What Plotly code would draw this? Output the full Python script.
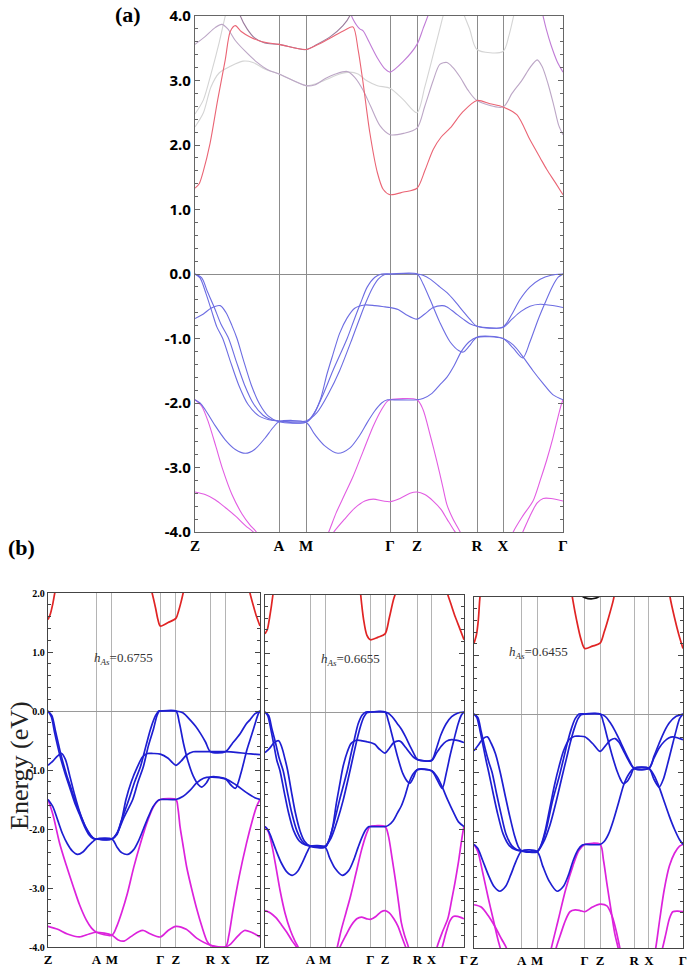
import numpy as np
import plotly.graph_objects as go

# ---------------- k-path ----------------
K_NODES = [0, 84, 111, 195, 222, 282, 308, 368]
K_LABELS = ["Z", "A", "M", "Γ", "Z", "R", "X", "Γ"]

# Each band: 7 path segments (Z-A, A-M, M-Γ, Γ-Z, Z-R, R-X, X-Γ),
# each a list of (fraction along segment, energy eV) or None.

# ---------- panel (a) valence ----------
A_T1 = [
    [(0, 0), (.06, -.06), (.13, -.3), (.2, -.58), (.26, -.82), (.33, -1.0), (.42, -1.35), (.52, -1.72), (.63, -2.02), (.76, -2.2), (.88, -2.26), (1, -2.28)],
    [(0, -2.28), (1, -2.28)],
    [(0, -2.28), (.13, -2.15), (.27, -1.85), (.4, -1.5), (.55, -1.0), (.63, -.72), (.71, -.45), (.79, -.22), (.86, -.08), (.93, -.01), (1, 0)],
    [(0, 0), (1, 0)],
    [(0, 0), (.1, -.02), (.22, -.08), (.38, -.2), (.5, -.29), (.63, -.42), (.77, -.58), (.88, -.7), (1, -.81)],
    [(0, -.81), (1, -.82)],
    [(0, -.82), (.15, -.62), (.28, -.4), (.45, -.2), (.62, -.08), (.8, -.02), (1, 0)],
]
A_T2 = [
    [(0, 0), (.08, -.06), (.15, -.28), (.23, -.52), (.31, -.78), (.4, -1.0), (.49, -1.35), (.59, -1.72), (.7, -2.02), (.81, -2.19), (.91, -2.26), (1, -2.28)],
    [(0, -2.28), (1, -2.3)],
    [(0, -2.3), (.1, -2.15), (.2, -1.88), (.32, -1.5), (.49, -1.0), (.57, -.72), (.65, -.45), (.73, -.2), (.82, -.05), (.9, 0), (1, 0)],
    [(0, 0), (1, 0)],
    [(0, 0), (.1, -.15), (.22, -.4), (.38, -.75), (.55, -1.05), (.7, -1.19), (.77, -1.21), (.87, -1.12), (1, -.98)],
    [(0, -.98), (1, -1.0)],
    [(0, -1.0), (.17, -1.15), (.33, -1.3), (.45, -1.05), (.58, -.72), (.7, -.45), (.82, -.2), (.92, -.05), (1, 0)],
]
A_H = [
    [(0, -.69), (.1, -.62), (.19, -.53), (.3, -.49), (.37, -.6), (.44, -.8), (.5, -1.0), (.58, -1.35), (.67, -1.72), (.77, -2.02), (.87, -2.2), (1, -2.29)],
    [(0, -2.29), (1, -2.3)],
    [(0, -2.3), (.08, -2.2), (.17, -1.95), (.25, -1.55), (.32, -1.25), (.4, -.92), (.49, -.68), (.58, -.53), (.7, -.48), (.82, -.49), (.94, -.51), (1, -.52)],
    [(0, -.52), (.3, -.55), (.6, -.63), (1, -.7)],
    [(0, -.7), (.13, -.62), (.27, -.52), (.42, -.49), (.5, -.51), (.63, -.6), (.77, -.7), (.88, -.77), (1, -.81)],
    [(0, -.81), (1, -.83)],
    [(0, -.83), (.15, -.7), (.3, -.58), (.45, -.5), (.62, -.47), (.75, -.48), (.9, -.5), (1, -.52)],
]
A_V4 = [
    [(0, -1.95), (.06, -2.0), (.12, -2.1), (.24, -2.35), (.36, -2.57), (.48, -2.72), (.6, -2.78), (.71, -2.72), (.83, -2.55), (.93, -2.38), (1, -2.29)],
    [(0, -2.29), (1, -2.3)],
    [(0, -2.3), (.1, -2.48), (.22, -2.66), (.38, -2.78), (.52, -2.7), (.64, -2.5), (.73, -2.3), (.82, -2.12), (.9, -2.0), (.97, -1.95), (1, -1.95)],
    [(0, -1.95), (1, -1.95)],
    [(0, -1.95), (.1, -1.93), (.25, -1.85), (.38, -1.72), (.5, -1.6), (.62, -1.42), (.74, -1.2), (.87, -1.05), (1, -.98)],
    [(0, -.98), (1, -1.0)],
    [(0, -1.0), (.17, -1.1), (.33, -1.28), (.5, -1.5), (.67, -1.7), (.83, -1.87), (1, -1.95)],
]
A_M1 = [
    [(0, -1.95), (.08, -2.05), (.16, -2.3), (.25, -2.68), (.33, -3.03), (.44, -3.42), (.56, -3.72), (.66, -3.9), (.73, -4.0), (.8, -4.2)],
    None,
    [(.2, -4.2), (.27, -4.0), (.36, -3.7), (.46, -3.42), (.56, -3.14), (.68, -2.75), (.8, -2.36), (.9, -2.1), (.97, -1.97), (1, -1.95)],
    [(0, -1.95), (1, -1.95)],
    [(0, -1.95), (.1, -2.1), (.22, -2.5), (.33, -2.9), (.43, -3.3), (.5, -3.58), (.6, -3.8), (.72, -4.0), (.8, -4.2)],
    None,
    [(.05, -4.3), (.17, -4.0), (.33, -3.75), (.5, -3.52), (.62, -3.2), (.73, -2.88), (.83, -2.55), (.9, -2.28), (.97, -2.03), (1, -1.95)],
]
A_M2 = [
    [(0, -3.38), (.12, -3.42), (.24, -3.5), (.36, -3.62), (.48, -3.75), (.6, -3.9), (.71, -4.02), (.8, -4.2)],
    None,
    [(.25, -4.2), (.32, -4.02), (.46, -3.8), (.58, -3.63), (.7, -3.52), (.8, -3.49), (.92, -3.52), (1, -3.53)],
    [(0, -3.53), (.37, -3.48), (.74, -3.4), (1, -3.38)],
    [(0, -3.38), (.13, -3.42), (.27, -3.52), (.4, -3.65), (.5, -3.8), (.6, -3.95), (.67, -4.05), (.75, -4.2)],
    None,
    [(.22, -4.2), (.33, -4.0), (.45, -3.75), (.57, -3.55), (.67, -3.48), (.8, -3.48), (1, -3.52)],
]

# ---------- panel (a) conduction ----------
A_C1 = [
    [(0, 1.33), (.05, 1.4), (.1, 1.6), (.18, 2.03), (.27, 2.7), (.36, 3.32), (.42, 3.76), (.48, 3.85), (.55, 3.76), (.65, 3.68), (.8, 3.6), (1, 3.56)],
    [(0, 3.56), (1, 3.48)],
    [(0, 3.48), (.13, 3.55), (.29, 3.66), (.46, 3.78), (.56, 3.83), (.62, 3.48), (.68, 2.96), (.76, 2.19), (.85, 1.57), (.92, 1.31), (1, 1.23)],
    [(0, 1.23), (.5, 1.27), (1, 1.33)],
    [(0, 1.33), (.13, 1.6), (.27, 1.93), (.4, 2.12), (.55, 2.26), (.77, 2.52), (1, 2.69)],
    [(0, 2.69), (.5, 2.64), (1, 2.59)],
    [(0, 2.59), (.23, 2.47), (.45, 2.08), (.62, 1.8), (.73, 1.62), (.87, 1.42), (1, 1.23)],
]
A_P = [
    [(0, 3.56), (.12, 3.68), (.24, 3.82), (.32, 3.87), (.39, 3.8), (.48, 3.62), (.6, 3.45), (.74, 3.28), (.86, 3.17), (1, 3.1)],
    [(0, 3.1), (1, 2.92)],
    [(0, 2.92), (.1, 2.93), (.23, 3.03), (.35, 3.1), (.49, 3.14), (.58, 3.05), (.68, 2.85), (.77, 2.6), (.88, 2.3), (1, 2.16)],
    [(0, 2.16), (.5, 2.18), (1, 2.26)],
    [(0, 2.26), (.13, 2.6), (.27, 3.0), (.38, 3.25), (.5, 3.28), (.6, 3.2), (.72, 3.05), (.85, 2.85), (1, 2.69)],
    [(0, 2.69), (1, 2.59)],
    [(0, 2.59), (.15, 2.8), (.32, 3.01), (.45, 3.2), (.57, 3.32), (.65, 3.22), (.75, 2.95), (.85, 2.6), (.93, 2.3), (1, 2.16)],
]
A_G2 = [
    [(0, 2.28), (.1, 2.5), (.19, 2.9), (.29, 3.12), (.42, 3.22), (.57, 3.3), (.69, 3.28), (.83, 3.18), (1, 3.1)],
    [(0, 3.1), (1, 2.92)],
    [(0, 2.92), (.12, 2.95), (.25, 3.02), (.4, 3.1), (.52, 3.13), (.62, 3.1), (.72, 3.0), (.85, 2.92), (1, 2.88)],
    [(0, 2.88), (.5, 2.7), (1, 2.5)],
    [(0, 2.5), (.13, 2.9), (.27, 3.4), (.38, 3.8), (.45, 4.05), (.55, 4.3)],
    None,
    None,
]
A_G1 = [
    [(0, 2.48), (.1, 2.7), (.19, 3.1), (.29, 3.6), (.36, 4.0), (.42, 4.3)],
    None,
    None,
    None,
    [(.65, 4.4), (.75, 4.1), (.88, 3.79), (1, 3.48)],
    [(0, 3.48), (1, 3.45)],
    [(0, 3.45), (.1, 3.7), (.17, 3.97), (.25, 4.3)],
]
A_PUR2 = [
    None,
    None,
    [(.46, 4.3), (.56, 3.95), (.64, 3.8), (.68, 3.77), (.75, 3.6), (.85, 3.35), (.94, 3.18), (1, 3.13)],
    [(0, 3.13), (.5, 3.3), (1, 3.56)],
    [(0, 3.56), (.1, 3.8), (.2, 4.05), (.28, 4.3)],
    None,
    [(.6, 4.3), (.68, 3.95), (.72, 3.8), (.8, 3.55), (.9, 3.3), (1, 3.13)],
]
A_DK = [
    [(.48, 4.3), (.54, 4.0), (.62, 3.8), (.71, 3.66), (.83, 3.58), (1, 3.56)],
    [(0, 3.56), (1, 3.48)],
    [(0, 3.48), (.13, 3.56), (.29, 3.68), (.44, 3.85), (.52, 4.0), (.58, 4.3)],
    None, None, None, None,
]

# ---------- panel (b), h_As = 0.6755 ----------
B1_T1 = [
    [(0, 0), (.07, -.1), (.14, -.38), (.245, -.75), (.35, -1.05), (.45, -1.3), (.55, -1.55), (.65, -1.75), (.75, -1.95), (.85, -2.1), (.93, -2.16), (1, -2.17)],
    [(0, -2.17), (1, -2.17)],
    [(0, -2.17), (.12, -2.05), (.25, -1.8), (.43, -1.5), (.54, -1.2), (.65, -.94), (.75, -.6), (.86, -.3), (.93, -.08), (.98, 0), (1, 0)],
    [(0, 0), (1, 0)],
    [(0, 0), (.2, -.03), (.41, -.15), (.57, -.26), (.71, -.38), (.86, -.53), (1, -.69)],
    [(0, -.69), (1, -.69)],
    [(0, -.69), (.2, -.55), (.43, -.38), (.6, -.22), (.71, -.15), (.85, -.05), (1, 0)],
]
B1_T2 = [
    [(0, 0), (.08, -.08), (.16, -.36), (.27, -.75), (.38, -1.07), (.48, -1.32), (.58, -1.57), (.68, -1.78), (.78, -1.97), (.88, -2.1), (.95, -2.16), (1, -2.17)],
    [(0, -2.17), (1, -2.17)],
    [(0, -2.17), (.1, -2.08), (.2, -1.85), (.35, -1.5), (.47, -1.2), (.59, -.94), (.7, -.6), (.8, -.3), (.9, -.08), (.97, 0), (1, 0)],
    [(0, 0), (1, 0)],
    [(0, 0), (.1, -.2), (.22, -.55), (.35, -.85), (.5, -1.1), (.65, -1.25), (.75, -1.29), (.88, -1.22), (1, -1.12)],
    [(0, -1.12), (1, -1.15)],
    [(0, -1.15), (.15, -1.25), (.29, -1.31), (.45, -1.05), (.62, -.66), (.75, -.42), (.86, -.21), (.95, -.05), (1, 0)],
]
B1_H = [
    [(0, -.92), (.1, -.85), (.2, -.76), (.28, -.72), (.36, -.82), (.45, -1.1), (.55, -1.42), (.65, -1.7), (.75, -1.92), (.85, -2.08), (.93, -2.15), (1, -2.17)],
    [(0, -2.17), (1, -2.17)],
    [(0, -2.17), (.1, -2.1), (.2, -1.85), (.29, -1.5), (.4, -1.2), (.53, -.94), (.63, -.78), (.73, -.72), (.85, -.72), (1, -.73)],
    [(0, -.73), (.5, -.8), (1, -.92)],
    [(0, -.92), (.15, -.85), (.3, -.75), (.5, -.69), (.7, -.69), (.85, -.69), (1, -.69)],
    [(0, -.69), (1, -.69)],
    [(0, -.69), (.3, -.7), (.6, -.72), (.8, -.73), (1, -.74)],
]
B1_V4 = [
    [(0, -1.5), (.1, -1.62), (.2, -1.85), (.3, -2.08), (.4, -2.25), (.5, -2.37), (.61, -2.43), (.72, -2.39), (.82, -2.3), (.92, -2.22), (1, -2.17)],
    [(0, -2.17), (1, -2.17)],
    [(0, -2.17), (.1, -2.3), (.2, -2.4), (.33, -2.43), (.45, -2.35), (.55, -2.2), (.65, -2.0), (.75, -1.8), (.85, -1.62), (.95, -1.52), (1, -1.5)],
    [(0, -1.5), (1, -1.5)],
    [(0, -1.5), (.2, -1.45), (.4, -1.35), (.6, -1.22), (.8, -1.14), (1, -1.12)],
    [(0, -1.12), (1, -1.15)],
    [(0, -1.15), (.3, -1.25), (.6, -1.38), (.85, -1.47), (1, -1.5)],
]
B1_M1 = [
    [(0, -1.5), (.1, -1.75), (.24, -2.24), (.38, -2.62), (.52, -2.97), (.65, -3.28), (.79, -3.54), (.9, -3.68), (1, -3.75)],
    [(0, -3.75), (1, -3.8)],
    [(0, -3.8), (.1, -3.65), (.2, -3.42), (.32, -3.09), (.45, -2.65), (.59, -2.24), (.72, -1.9), (.86, -1.62), (.95, -1.52), (1, -1.5)],
    [(0, -1.5), (1, -1.5)],
    [(0, -1.5), (.06, -1.65), (.12, -1.96), (.2, -2.25), (.31, -2.64), (.45, -3.0), (.61, -3.37), (.75, -3.65), (.9, -3.9), (1, -3.97)],
    [(0, -3.97), (1, -4.0)],
    [(0, -4.0), (.1, -3.8), (.22, -3.37), (.4, -2.8), (.61, -2.24), (.78, -1.85), (.9, -1.62), (1, -1.5)],
]
B1_M2 = [
    [(0, -3.65), (.2, -3.7), (.4, -3.78), (.65, -3.83), (.85, -3.78), (1, -3.75)],
    [(0, -3.75), (1, -3.8)],
    [(0, -3.8), (.13, -3.88), (.25, -3.9), (.4, -3.82), (.55, -3.74), (.65, -3.72), (.8, -3.78), (1, -3.83)],
    [(0, -3.83), (.5, -3.72), (1, -3.65)],
    [(0, -3.65), (.3, -3.7), (.6, -3.85), (1, -3.97)],
    [(0, -3.97), (1, -4.0)],
    [(0, -4.0), (.15, -3.95), (.35, -3.82), (.55, -3.72), (.75, -3.75), (1, -3.83)],
]
B1_C = [
    [(0, 1.55), (.05, 1.65), (.1, 1.82), (.14, 2.0), (.18, 2.15)],
    None,
    [(.78, 2.15), (.83, 2.0), (.9, 1.75), (.95, 1.55), (1, 1.44)],
    [(0, 1.44), (.5, 1.5), (1, 1.57)],
    [(0, 1.57), (.08, 1.7), (.15, 1.85), (.21, 2.0), (.25, 2.1)],
    None,
    [(.66, 2.15), (.71, 2.0), (.8, 1.8), (.9, 1.6), (1, 1.44)],
]

# ---------- panel (b), h_As = 0.6455 ----------
B3_T1 = [
    [(0, 0), (.06, -.06), (.13, -.3), (.2, -.58), (.26, -.82), (.31, -1.0), (.4, -1.35), (.5, -1.72), (.61, -2.05), (.74, -2.25), (.87, -2.32), (1, -2.34)],
    [(0, -2.34), (1, -2.35)],
    [(0, -2.35), (.13, -2.2), (.27, -1.9), (.4, -1.5), (.53, -1.05), (.62, -.75), (.7, -.48), (.78, -.25), (.86, -.08), (.93, -.01), (1, 0)],
    [(0, 0), (1, 0)],
    [(0, 0), (.15, -.04), (.3, -.15), (.45, -.3), (.6, -.48), (.75, -.67), (.88, -.82), (1, -.93)],
    [(0, -.93), (1, -.93)],
    [(0, -.93), (.15, -.72), (.3, -.5), (.45, -.3), (.6, -.15), (.8, -.04), (1, 0)],
]
B3_T2 = [
    [(0, 0), (.08, -.06), (.15, -.3), (.23, -.58), (.31, -.82), (.38, -1.0), (.47, -1.35), (.57, -1.72), (.67, -2.05), (.79, -2.25), (.9, -2.32), (1, -2.34)],
    [(0, -2.34), (1, -2.36)],
    [(0, -2.36), (.1, -2.22), (.2, -1.95), (.32, -1.5), (.47, -1.05), (.56, -.75), (.64, -.48), (.72, -.25), (.8, -.08), (.88, 0), (1, 0)],
    [(0, 0), (1, 0)],
    [(0, 0), (.1, -.15), (.22, -.42), (.35, -.7), (.5, -.98), (.6, -1.12), (.68, -1.19), (.8, -1.15), (.9, -1.05), (1, -.93)],
    [(0, -.93), (1, -.93)],
    [(0, -.93), (.15, -1.12), (.3, -1.25), (.42, -1.12), (.55, -.85), (.68, -.55), (.8, -.28), (.9, -.08), (1, 0)],
]
B3_H = [
    [(0, -.63), (.1, -.52), (.19, -.42), (.28, -.39), (.36, -.5), (.45, -.68), (.55, -1.0), (.65, -1.38), (.75, -1.75), (.85, -2.08), (.93, -2.27), (1, -2.34)],
    [(0, -2.34), (1, -2.35)],
    [(0, -2.35), (.08, -2.25), (.17, -2.0), (.27, -1.6), (.37, -1.2), (.46, -.9), (.56, -.62), (.67, -.44), (.79, -.38), (.9, -.38), (1, -.39)],
    [(0, -.39), (.5, -.5), (1, -.64)],
    [(0, -.64), (.15, -.55), (.3, -.45), (.44, -.42), (.55, -.48), (.68, -.62), (.82, -.78), (1, -.93)],
    [(0, -.93), (1, -.93)],
    [(0, -.93), (.15, -.75), (.3, -.58), (.45, -.47), (.58, -.41), (.7, -.39), (.85, -.41), (1, -.44)],
]
B3_V4 = [
    [(0, -2.23), (.08, -2.3), (.18, -2.5), (.3, -2.75), (.42, -2.95), (.54, -3.03), (.66, -2.95), (.77, -2.75), (.88, -2.52), (1, -2.34)],
    [(0, -2.34), (1, -2.35)],
    [(0, -2.35), (.12, -2.6), (.25, -2.85), (.42, -3.03), (.55, -2.95), (.66, -2.75), (.76, -2.5), (.86, -2.32), (.95, -2.24), (1, -2.23)],
    [(0, -2.23), (1, -2.23)],
    [(0, -2.23), (.12, -2.18), (.25, -2.05), (.4, -1.8), (.55, -1.5), (.7, -1.2), (.85, -1.02), (1, -.93)],
    [(0, -.93), (1, -.93)],
    [(0, -.93), (.15, -1.05), (.3, -1.25), (.45, -1.5), (.6, -1.75), (.75, -1.97), (.9, -2.15), (1, -2.23)],
]
B3_M1 = [
    [(0, -2.23), (.08, -2.35), (.18, -2.7), (.3, -3.15), (.4, -3.5), (.5, -3.85), (.55, -4.0), (.6, -4.2)],
    None,
    [(.25, -4.2), (.3, -4.0), (.45, -3.5), (.6, -3.0), (.75, -2.6), (.88, -2.33), (1, -2.23)],
    [(0, -2.23), (1, -2.23)],
    [(0, -2.23), (.1, -2.5), (.2, -2.9), (.32, -3.35), (.43, -3.75), (.53, -4.0), (.6, -4.2)],
    None,
    [(.13, -4.2), (.2, -4.0), (.32, -3.5), (.45, -3.0), (.6, -2.6), (.75, -2.38), (.9, -2.26), (1, -2.23)],
]
B3_M2 = [
    [(0, -3.26), (.15, -3.3), (.3, -3.45), (.45, -3.65), (.58, -3.85), (.68, -4.0), (.75, -4.2)],
    None,
    [(.35, -4.2), (.4, -4.0), (.5, -3.75), (.6, -3.52), (.69, -3.38), (.8, -3.35), (.9, -3.36), (1, -3.38)],
    [(0, -3.38), (.5, -3.3), (1, -3.25)],
    [(0, -3.25), (.2, -3.28), (.35, -3.45), (.47, -3.7), (.58, -4.0), (.65, -4.2)],
    None,
    [(.3, -4.2), (.4, -4.0), (.5, -3.75), (.6, -3.5), (.7, -3.38), (.85, -3.37), (1, -3.38)],
]
B3_C = [
    [(0, 1.21), (.05, 1.35), (.09, 1.6), (.12, 1.95), (.15, 2.2)],
    None,
    [(.7, 2.2), (.75, 1.95), (.83, 1.6), (.92, 1.28), (1, 1.12)],
    [(0, 1.12), (.5, 1.16), (1, 1.21)],
    [(0, 1.21), (.12, 1.4), (.25, 1.65), (.39, 1.95), (.45, 2.15)],
    None,
    [(.58, 2.2), (.62, 2.0), (.75, 1.65), (.88, 1.35), (1, 1.12)],
]
B3_K = [
    None, None,
    [(.88, 2.1), (.94, 2.02), (1, 1.99)],
    [(0, 1.99), (.5, 1.97), (1, 2.02)],
    [(0, 2.02), (.06, 2.1)],
    None, None,
]

H_LABELS = ["0.6755", "0.6655", "0.6455"]
Y_TICKS_A = [-4, -3, -2, -1, 0, 1, 2, 3, 4]
Y_TICKS_B = [-4, -3, -2, -1, 0, 1, 2]


def build(segs):
    xs, ys = [], []
    connected = False
    for i, seg in enumerate(segs):
        if not seg:
            if xs and xs[-1] is not None:
                xs.append(None); ys.append(None)
            connected = False
            continue
        k0, k1 = K_NODES[i], K_NODES[i + 1]
        for j, (f, e) in enumerate(seg):
            if j == 0:
                if connected and f == 0:
                    continue
                if xs and xs[-1] is not None:
                    xs.append(None); ys.append(None)
            xs.append(k0 + f * (k1 - k0)); ys.append(e)
        connected = seg[-1][0] == 1
    return xs, ys


fig = go.Figure()

BLUE_A, MAG_A, RED_A = "#6c6ce2", "#e25ce2", "#ea6474"
PUR_A, GREY_A, DARK_A = "#c07cd6", "#d4d4d4", "#9a7a9c"
BLUE_B, MAG_B, RED_B = "#1e1ed2", "#dc22dc", "#e02424"

panel_a = [
    (A_G1, GREY_A), (A_G2, GREY_A), (A_DK, DARK_A), (A_P, "#bca6c6"), (A_PUR2, PUR_A), (A_C1, RED_A),
    (A_M2, MAG_A), (A_M1, MAG_A), (A_V4, BLUE_A), (A_H, BLUE_A), (A_T2, BLUE_A), (A_T1, BLUE_A),
]
for band, col in panel_a:
    x, y = build(band)
    fig.add_trace(go.Scatter(x=x, y=y, mode="lines", line=dict(color=col, width=1.1, shape="spline", smoothing=0.8),
                             xaxis="x", yaxis="y", hoverinfo="skip", showlegend=False))

def add_b(bands, ax):
    for band, col in bands:
        x, y = build(band)
        fig.add_trace(go.Scatter(x=x, y=y, mode="lines", line=dict(color=col, width=1.7, shape="spline", smoothing=0.8),
                                 xaxis="x" + ax, yaxis="y" + ax, hoverinfo="skip", showlegend=False))

add_b([(B1_C, RED_B), (B1_M2, MAG_B), (B1_M1, MAG_B), (B1_V4, BLUE_B), (B1_H, BLUE_B), (B1_T2, BLUE_B), (B1_T1, BLUE_B)], "2")
add_b([(A_C1, RED_B), (A_M2, MAG_B), (A_M1, MAG_B), (A_V4, BLUE_B), (A_H, BLUE_B), (A_T2, BLUE_B), (A_T1, BLUE_B)], "3")
add_b([(B3_K, "#111111"), (B3_C, RED_B), (B3_M2, MAG_B), (B3_M1, MAG_B), (B3_V4, BLUE_B), (B3_H, BLUE_B), (B3_T2, BLUE_B), (B3_T1, BLUE_B)], "4")

W, H = 700, 971
def dx(a, b):
    return [a / W, b / W]
def dy(top, bot):
    return [1 - bot / H, 1 - top / H]

SERIF = "Liberation Serif"

def xax(dom, anchor, size, grid, line):
    return dict(domain=dom, anchor=anchor, range=[0, 368], tickmode="array", tickvals=K_NODES, ticktext=K_LABELS,
                showgrid=True, gridcolor=grid, gridwidth=1.2, ticks="", showline=True, mirror=True,
                linecolor=line, linewidth=1.3, zeroline=False, automargin=False,
                tickfont=dict(family=SERIF, size=size, color="black", weight="bold"))

def yax(dom, anchor, rng, ticks, show, font, line, zcol):
    minor_vals = [round(v, 1) for v in np.arange(rng[0], rng[1] + 0.001, 0.2)]
    return dict(domain=dom, anchor=anchor, range=rng, tickmode="array", tickvals=ticks,
                ticktext=[f"{t:.1f}" for t in ticks], showticklabels=show,
                ticks="inside", ticklen=5, tickcolor=line, tickwidth=1,
                minor=dict(tickmode="array", tickvals=minor_vals, ticks="inside", ticklen=3, tickcolor=line, showgrid=False),
                showgrid=False, zeroline=True, zerolinecolor=zcol, zerolinewidth=1.2, automargin=False,
                showline=True, mirror="ticks", linecolor=line, linewidth=1.3, tickfont=font)

fig.update_layout(
    template="none",
    width=W, height=H, margin=dict(l=0, r=0, t=0, b=0, autoexpand=False),
    paper_bgcolor="white", plot_bgcolor="white",
    xaxis=xax(dx(195, 563), "y", 15, "#8c8c8c", "#666666"),
    yaxis=yax(dy(16, 532), "x", [-4, 4], Y_TICKS_A, True,
              dict(family="Noto Sans", size=15, color="black", weight="bold"), "#666666", "#8c8c8c"),
    xaxis2=xax(dx(48, 260), "y2", 13, "#b4b4b4", "#444444"),
    yaxis2=yax(dy(593, 947), "x2", [-4, 2], Y_TICKS_B, True,
               dict(family=SERIF, size=10, color="black", weight="bold"), "#444444", "#9a9a9a"),
    xaxis3=xax(dx(265, 464), "y3", 13, "#b4b4b4", "#444444"),
    yaxis3=yax(dy(594.5, 947), "x3", [-4, 2], Y_TICKS_B, False,
               dict(family=SERIF, size=10, color="black"), "#444444", "#9a9a9a"),
    xaxis4=xax(dx(474, 683), "y4", 13, "#b4b4b4", "#444444"),
    yaxis4=yax(dy(597, 948), "x4", [-4, 2], Y_TICKS_B, False,
               dict(family=SERIF, size=10, color="black"), "#444444", "#9a9a9a"),
)

ann = [
    dict(text="<b>(a)</b>", x=128 / W, y=1 - 15 / H, font=dict(family=SERIF, size=22, color="black")),
    dict(text="<b>(b)</b>", x=21 / W, y=1 - 547 / H, font=dict(family=SERIF, size=22, color="black")),
    dict(text="Energy (eV)", x=19 / W, y=1 - 766 / H, textangle=-90, font=dict(family=SERIF, size=26, color="#222222")),
]
for lab, (cx, cy) in zip(H_LABELS, [(124, 658), (350, 659), (538, 652)]):
    ann.append(dict(text=f"<i>h</i><sub><i>As</i></sub>={lab}", x=cx / W, y=1 - cy / H,
                    font=dict(family=SERIF, size=13, color="#333333")))
for a in ann:
    a.update(xref="paper", yref="paper", showarrow=False, xanchor="center", yanchor="middle")
fig.update_layout(annotations=ann)

fig.write_html("out.html", config={"displayModeBar": False},
               post_script="document.body.style.margin='0px';document.body.style.overflow='hidden';")
